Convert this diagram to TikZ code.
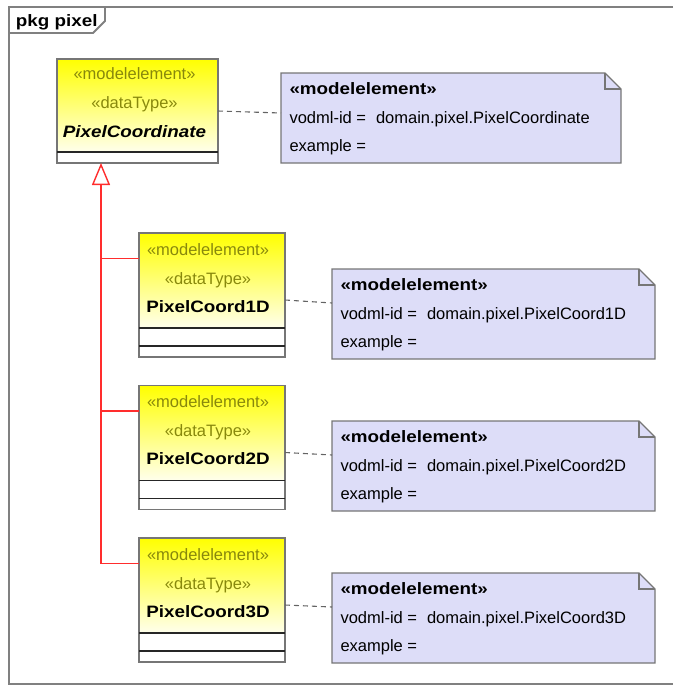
\documentclass[tikz,border=0pt]{standalone}
\usepackage{fontspec}
\setmainfont{Liberation Sans}
\usepackage{graphicx}
\usetikzlibrary{arrows.meta,calc}

\definecolor{framegray}{RGB}{128,128,128}
\definecolor{boxgray}{RGB}{118,118,118}
\definecolor{stereocol}{RGB}{136,136,12}
\definecolor{notefill}{RGB}{221,221,248}
\definecolor{genred}{RGB}{255,45,45}
\definecolor{topyellow}{RGB}{255,255,0}
\definecolor{paleyellow}{RGB}{255,255,236}
\definecolor{dashgray}{RGB}{100,100,100}

% bold labels are set a little wider than the regular weight
\newcommand{\widebf}[1]{\scalebox{1.14}[1]{\bfseries #1}}

\tikzset{
  every node/.style={inner sep=0pt, outer sep=0pt},
  txt/.style={font=\fontsize{16.5}{19}\selectfont, text=black},
  stereo/.style={font=\fontsize{16.5}{19}\selectfont, text=stereocol},
  classtitle/.style={rectangle, anchor=north west, draw=boxgray, line width=1.4pt,
    top color=topyellow, bottom color=paleyellow},
  classcomp/.style={rectangle, anchor=north west, draw=boxgray, line width=1.4pt, fill=white},
  separator/.style={draw=black!85, line width=1.4pt},
  notebody/.style={rectangle, anchor=north west},
  notestroke/.style={draw=boxgray, line width=1.4pt, fill=notefill, line join=miter},
  foldstroke/.style={draw=boxgray, line width=1.2pt},
  dashline/.style={draw=dashgray, line width=1.1pt, dash pattern=on 5pt off 4pt},
  genline/.style={draw=genred, line width=1.4pt},
  framestyle/.style={draw=framegray, line width=1.8pt},
}

% UML note: name, x, y, width, identifier
\newcommand{\umlnote}[5]{%
  \node[notebody, minimum width=#4, minimum height=90pt] (#1) at (#2,#3) {};
  \path[notestroke] (#1.north west) -- ($(#1.north east)+(-16,0)$) -- ($(#1.north east)+(0,16)$)
    -- (#1.south east) -- (#1.south west) -- cycle;
  \draw[foldstroke] ($(#1.north east)+(-16,0)$) -- ($(#1.north east)+(-16,16)$) -- ($(#1.north east)+(0,16)$);
  \node[txt, anchor=base west] (#1l1) at ($(#1.north west)+(8.5,21.5)$) {\widebf{«modelelement»}};
  \node[txt, anchor=base west] (#1l2) at ($(#1.north west)+(8.5,50)$) {vodml-id =\hspace{10pt}#5};
  \node[txt, anchor=base west] (#1l3) at ($(#1.north west)+(8.5,78.5)$) {example =};
}

\begin{document}
\begin{tikzpicture}[x=1pt,y=-1pt]
\useasboundingbox (0,0) rectangle (673,686);

% package frame and its name tab
\draw[framestyle] (673,7) -- (9,7) -- (9,684) -- (673,684);
\draw[framestyle, line join=miter] (9,7) -- (105,7) -- (105,21) -- (93,33) -- (9,33);
\node[txt, anchor=base west] (pkg) at (16,26) {\widebf{pkg pixel}};

% ---------- abstract data type PixelCoordinate ----------
\node[classtitle, minimum width=161pt, minimum height=93pt] (c0t) at (57,59) {};
\node[classcomp, minimum width=161pt, minimum height=11pt] (c0a) at (c0t.south west) {};
\draw[separator] (c0t.south west) -- (c0t.south east);
\node[stereo, anchor=base] (c0s1) at ($(c0t.north)+(-3,20)$) {«modelelement»};
\node[stereo, anchor=base] (c0s2) at ($(c0t.north)+(-3,49)$) {«dataType»};
\node[txt, anchor=base] (c0n) at ($(c0t.north)+(-3,78)$) {\widebf{\itshape PixelCoordinate}};

% ---------- concrete data types ----------
\foreach \k/\top/\lbl in {1/233/PixelCoord1D, 2/385.5/PixelCoord2D, 3/538/PixelCoord3D} {
  \node[classtitle, minimum width=146pt, minimum height=95pt] (c\k t) at (139,\top) {};
  \node[classcomp, minimum width=146pt, minimum height=18pt] (c\k a) at (c\k t.south west) {};
  \node[classcomp, minimum width=146pt, minimum height=11pt] (c\k b) at (c\k a.south west) {};
  \draw[separator] (c\k t.south west) -- (c\k t.south east);
  \draw[separator] (c\k a.south west) -- (c\k a.south east);
  \node[stereo, anchor=base] (c\k s1) at ($(c\k t.north)+(-4,22)$) {«modelelement»};
  \node[stereo, anchor=base] (c\k s2) at ($(c\k t.north)+(-4,51)$) {«dataType»};
  \node[txt, anchor=base] (c\k n) at ($(c\k t.north)+(-4,79)$) {\widebf{\lbl}};
}

% ---------- notes ----------
\umlnote{n0}{281}{73}{340pt}{domain.pixel.PixelCoordinate}
\umlnote{n1}{332}{269}{323pt}{domain.pixel.PixelCoord1D}
\umlnote{n2}{332}{421}{323pt}{domain.pixel.PixelCoord2D}
\umlnote{n3}{332}{573}{323pt}{domain.pixel.PixelCoord3D}

% ---------- note anchors ----------
\coordinate (c0d) at ($(c0t.north east)+(0,52)$);
\coordinate (n0d) at ($(n0.north west)+(0,40)$);
\draw[dashline] (c0d) -- (n0d);
\foreach \k in {1,2,3} {
  \coordinate (c\k d) at ($(c\k t.north east)+(0,67)$);
  \coordinate (n\k d) at ($(n\k.north west)+(0,34)$);
  \draw[dashline] (c\k d) -- (n\k d);
}

% ---------- generalization ----------
\coordinate (g0) at ($(c0a.south west)+(44,0)$);
\foreach \k in {1,2,3} {
  \coordinate (b\k) at ($(c\k t.north west)+(0,25.5)$);
  \coordinate (j\k) at (b\k -| g0);
  \draw[genline] (b\k) -- (j\k);
}
\draw[genline, -{Triangle[open, length=22pt, width=18pt, line width=1.4pt]}] (j3) -- (g0);

\end{tikzpicture}
\end{document}
